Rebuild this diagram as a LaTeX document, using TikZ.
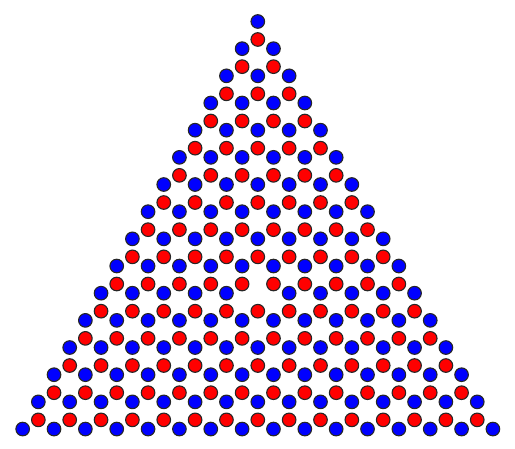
\documentclass[tikz,border=0pt]{standalone}
\begin{document}
\begin{tikzpicture}[x=1pt,y=-1pt,
  dot/.style={circle, draw=black!85, line width=1.1pt, minimum size=13.6pt, inner sep=0pt},
  bluedot/.style={dot, fill={rgb,255:red,0;green,0;blue,255}},
  reddot/.style={dot, fill={rgb,255:red,255;green,0;blue,0}}]
\useasboundingbox (0,0) rectangle (515,449);
\foreach \k in {0,...,15}{
  \foreach \j in {0,...,\k}{
    \pgfmathsetmacro\xx{257.8+31.35*(\j-\k/2)}
    \pgfmathsetmacro\yy{21.5+27.17*\k}
    \pgfmathtruncatemacro\isgap{and(\k==10,\j==5)}
    \ifnum\isgap=0 \node[bluedot] (b-\k-\j) at (\xx,\yy) {};\fi
    \ifnum\k<15 \node[reddot] (r-\k-\j) at (\xx,\yy+18) {};\fi
  }
}
\end{tikzpicture}
\end{document}
